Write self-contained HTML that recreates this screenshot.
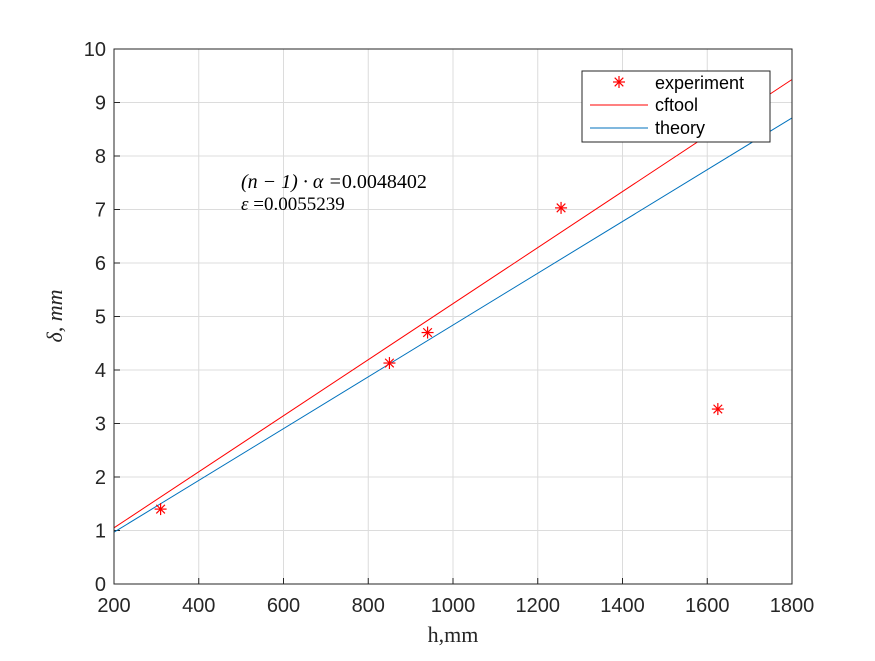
<!DOCTYPE html>
<html><head><meta charset="utf-8"><style>
body{margin:0;background:#fff;}
svg text{font-family:"Liberation Sans",sans-serif;}
svg text.serif{font-family:"Liberation Serif",serif;}
</style></head><body>
<svg width="875" height="656" viewBox="0 0 875 656" id="chart">
<rect width="875" height="656" fill="#fff"/>
<g id="grid"></g>
<g id="ticks"></g>
<g id="lines"></g>
<g id="pts"></g>
<rect x="114" y="49" width="678" height="535" fill="none" stroke="#262626" stroke-width="1"/>
<text class="serif" x="241" y="188" font-size="20" font-style="italic" fill="#000">(n − 1) · α =<tspan font-style="normal">0.0048402</tspan></text>
<text class="serif" x="241" y="210" font-size="19" fill="#000"><tspan font-style="italic">ε</tspan> =0.0055239</text>
<text class="serif" x="453" y="642" text-anchor="middle" font-size="22" fill="#262626">h,mm</text>
<text class="serif" transform="translate(62,316) rotate(-90)" text-anchor="middle" font-size="22" font-style="italic" fill="#262626">δ, mm</text>
<g>
<rect x="582" y="71" width="188" height="71" fill="#fff" stroke="#262626" stroke-width="1"/>
<g>
<g stroke="#f00" stroke-width="1.2"><line x1="613" x2="625" y1="82" y2="82"/><line x1="619" x2="619" y1="76" y2="88"/><line x1="614.7" x2="623.3" y1="77.7" y2="86.3"/><line x1="614.7" x2="623.3" y1="86.3" y2="77.7"/></g>
<text x="655" y="89" font-size="18" fill="#000">experiment</text></g>
<g>
<line x1="590" y1="105" x2="648" y2="105" stroke="#f00"/>
<text x="655" y="111" font-size="18" fill="#000">cftool</text></g>
<g>
<line x1="590" y1="128" x2="648" y2="128" stroke="#0072bd"/>
<text x="655" y="134" font-size="18" fill="#000">theory</text></g>
</g>
</svg>
<script>
const xTicks=[200,400,600,800,1000,1200,1400,1600,1800];
const yTicks=[0,1,2,3,4,5,6,7,8,9,10];
const expH=[310,850,940,1255,1625];
const expD=[1.4,4.13,4.7,7.03,3.27];
const lineH=[200,1800];
const cftoolD=[1.05,9.43];
const theoryD=[0.968,8.712];
const X=v=>114+(v-200)*(678/1600);
const Y=v=>584-v*53.5;
const NS='http://www.w3.org/2000/svg';
function mk(t,a,p){const e=document.createElementNS(NS,t);for(const k in a)e.setAttribute(k,a[k]);p.appendChild(e);return e;}
const g=document.getElementById('grid'),tk=document.getElementById('ticks'),ln=document.getElementById('lines'),pt=document.getElementById('pts');
xTicks.forEach(v=>{
 const l=mk('line',{x1:X(v),x2:X(v),y1:49,y2:584,stroke:'#dcdcdc'},g);
 
 
 mk('line',{x1:X(v),x2:X(v),y1:584,y2:578,stroke:'#262626'},tk);
 const t=mk('text',{x:X(v),y:612,'text-anchor':'middle','font-size':'20',fill:'#262626'},tk);t.textContent=v;
 
 
});
yTicks.forEach(v=>{
 const l=mk('line',{x1:114,x2:792,y1:Y(v),y2:Y(v),stroke:'#dcdcdc'},g);
 
 
 mk('line',{x1:114,x2:120,y1:Y(v),y2:Y(v),stroke:'#262626'},tk);
 const t=mk('text',{x:106,y:Y(v)+7,'text-anchor':'end','font-size':'20',fill:'#262626'},tk);t.textContent=v;
 
 
});
const c=mk('line',{x1:X(lineH[0]),y1:Y(cftoolD[0]),x2:X(lineH[1]),y2:Y(cftoolD[1]),stroke:'#f00'},ln);


const th=mk('line',{x1:X(lineH[0]),y1:Y(theoryD[0]),x2:X(lineH[1]),y2:Y(theoryD[1]),stroke:'#0072bd'},ln);


expH.forEach((h,i)=>{
 const x=X(h),y=Y(expD[i]),r=6;
 const s=mk('g',{stroke:'#f00','stroke-width':'1.2'},pt);
 
 
 mk('line',{x1:x-r,x2:x+r,y1:y,y2:y},s);
 mk('line',{x1:x,x2:x,y1:y-r,y2:y+r},s);
 mk('line',{x1:x-4.3,x2:x+4.3,y1:y-4.3,y2:y+4.3},s);
 mk('line',{x1:x-4.3,x2:x+4.3,y1:y+4.3,y2:y-4.3},s);
});
</script>
</body></html>
